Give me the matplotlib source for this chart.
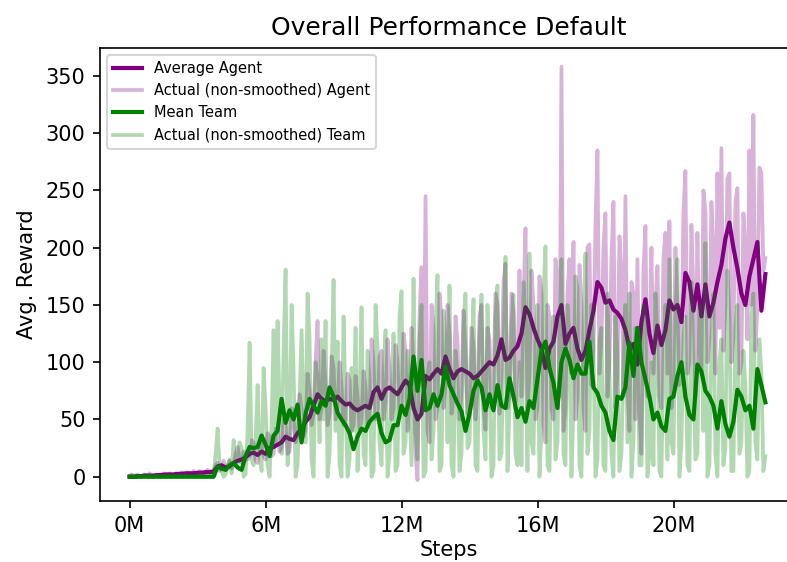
import numpy as np
import matplotlib
matplotlib.use("Agg")
import matplotlib.pyplot as plt

# ---- data ----
step_m = 0.147  # millions of steps per smoothed point (raw points are twice as dense)

avg_agent = [
    0, 0, 0.5, 0.5, 1, 1, 1, 1.5, 1.5, 2, 2, 2, 2.5, 2.5, 3, 3, 3, 3.5, 3.5, 4, 4, 4.5,
    9, 10, 8, 9, 12, 14, 15, 17, 20,
    21, 19, 22, 20, 25, 26, 28, 30, 35, 33, 32, 38, 42, 48, 52, 62, 72, 68, 66, 68,
    67, 70, 66, 63, 64, 60, 58, 60, 62, 60, 74, 78, 68, 76,
    78, 75, 72, 78, 84, 80, 60, 50, 55, 88, 85, 90, 94, 90, 105, 94, 86, 92, 94, 92,
    90, 86, 88, 92, 96, 100, 98, 106, 120, 102, 104, 110, 114,
    125, 148, 142, 130, 120, 112, 95, 112, 118, 140, 150, 116, 125, 130, 112, 102, 110, 128, 145, 170,
    165, 152, 154, 146, 143, 138, 128, 112, 116, 98, 135, 155, 125,
    108, 132, 115, 128, 154, 146, 150, 135, 178, 170, 145, 168, 140, 168, 140, 152, 170, 185, 208, 222,
    200, 182, 160, 150, 175, 190, 205, 145, 177,
]
mean_team = [
    0, 0, 0, 0, 0, 0, 0, 0, 0, 0, 0, 0, 0, 0, 0, 0, 0, 0, 0, 0, 0, 0,
    9, 7, 6, 10, 12, 8, 6, 18, 26,
    25, 26, 36, 28, 18, 36, 40, 68, 47, 58, 50, 63, 30, 55, 68, 62, 56, 66, 62, 78,
    70, 56, 50, 45, 38, 24, 35, 42, 40, 48, 52, 55, 38, 30,
    32, 45, 45, 62, 54, 68, 105, 75, 102, 58, 60, 72, 62, 72, 96, 80, 72, 64, 57, 40,
    55, 75, 84, 78, 58, 72, 58, 80, 62, 60, 86, 70, 52,
    60, 48, 66, 60, 85, 110, 118, 95, 82, 60, 100, 112, 102, 86, 98, 90, 90, 118, 78, 73,
    62, 56, 40, 32, 70, 68, 78, 117, 88, 130, 100, 85, 70,
    50, 56, 44, 40, 68, 70, 88, 100, 70, 54, 50, 98, 92, 75, 70, 62, 42, 66, 46, 35,
    48, 76, 70, 58, 62, 42, 94, 80, 65,
]
actual_agent = [
    1, 2, 0, 1, 2, 0, 0, 2, 1, 0, 3, 1, 0, 2, 1, 0, 2, 3, 0, 1,
    3, 0, 1, 3, 2, 1, 4, 2, 1, 4, 3, 2, 5, 3, 2, 5, 4, 3, 3, 6,
    5, 4, 6, 10, 12, 5, 8, 14, 6, 9, 14, 7, 10, 20, 26, 14, 12, 22, 20, 15,
    18, 32, 30, 14, 12, 30, 28, 18, 15, 38, 35, 18, 20, 42, 40, 22, 25, 50, 45, 20,
    22, 60, 50, 30, 35, 72, 60, 35, 40, 90, 75, 45, 55, 100, 136, 50, 60, 110, 80, 45,
    55, 105, 95, 50, 60, 100, 78, 45, 50, 90, 84, 40, 45, 88, 70, 42, 50, 92, 78, 45,
    55, 120, 100, 50, 60, 105, 110, 50, 65, 120, 95, 50, 60, 115, 100, 55, 62, 125, 110, 40,
    70, 130, 100, 20, -3, 140, 183, 60, 245, 40, 30, 150, 128, 50, 60, 160, 138, 60, 80, 150,
    125, 55, 70, 140, 118, 50, 75, 145, 110, 55, 60, 130, 115, 50, 75, 140, 150, 60, 41, 130,
    120, 60, 80, 160, 150, 55, 90, 170, 186, 60, 70, 160, 143, 65, 95, 180, 70, 150, 217, 60,
    90, 180, 150, 50, 60, 175, 160, 45, 30, 150, 140, 60, 50, 190, 170, 70, 358, 40, 60, 160,
    190, 90, 205, 50, 70, 185, 150, 60, 40, 200, 203, 80, 110, 220, 285, 90, 120, 200, 230, 70,
    100, 190, 240, 60, 90, 210, 180, 70, 245, 80, 40, 170, 160, 50, 190, 60, 20, 180, 219, 70,
    110, 200, 90, 150, 184, 70, 60, 190, 213, 90, 223, 60, 80, 200, 150, 80, 110, 230, 267, 90,
    100, 220, 160, 70, 213, 110, 90, 250, 232, 100, 120, 240, 200, 90, 265, 130, 287, 110, 150, 260,
    265, 100, 120, 240, 252, 90, 100, 230, 200, 120, 285, 150, 316, 110, 150, 270, 265, 180, 191,
]
actual_team = [
    0, 1, 1, 0, 0, 0, 0, 1, 2, 0, 0, 0, 0, 1, 1, 0, 0, 0, 0, 2,
    0, 0, 1, 0, 0, 1, 0, 0, 2, 0, 0, 1, 0, 0, 0, 2, 1, 0, 0, 0,
    0, 3, 0, 20, 42, 8, 5, 0, 2, 10, 15, 3, 32, 12, 8, 30, 25, 0, 2, 40,
    117, 15, 10, 30, 80, 20, 5, 95, 60, 10, 0, 45, 128, 30, 136, 60, 20, 110, 181, 10,
    40, 150, 95, 0, 10, 70, 128, 60, 30, 160, 120, 15, 0, 100, 85, 30, 120, 50, 136, 0,
    20, 90, 172, 40, 118, 10, 0, 140, 60, 0, 15, 95, 40, 130, 5, 70, 148, 20, 10, 110,
    85, 0, 5, 150, 113, 30, 10, 90, 128, 0, 20, 70, 125, 5, 10, 140, 162, 20, 30, 110,
    60, 10, 173, 40, 15, 120, 150, 0, 5, 90, 100, 15, 40, 130, 176, 5, 10, 145, 120, 30,
    167, 10, 0, 110, 90, 5, 20, 135, 160, 25, 30, 100, 155, 10, 5, 120, 159, 40, 15, 150,
    80, 0, 10, 140, 167, 15, 20, 110, 192, 5, 60, 130, 159, 20, 10, 100, 10, 170, 130, 5,
    195, 30, 20, 120, 150, 0, 40, 160, 201, 10, 5, 100, 140, 15, 30, 120, 190, 20, 10, 150,
    120, 0, 60, 175, 165, 10, 0, 130, 195, 20, 40, 150, 110, 0, 15, 120, 130, 10, 5, 160,
    90, 20, 0, 140, 110, 5, 20, 95, 150, 30, 160, 0, 30, 130, 120, 10, 10, 150, 140, 0,
    20, 100, 10, 160, 120, 5, 0, 110, 150, 15, 190, 30, 20, 140, 190, 0, 30, 120, 140, 10,
    5, 170, 100, 15, 20, 150, 130, 40, 204, 0, 10, 120, 160, 20, 0, 100, 120, 10, 25, 180,
    140, 5, 5, 130, 150, 20, 30, 110, 80, 0, 5, 140, 160, 30, 15, 120, 90, 5, 18,
]
tick_pos = [0, 5, 10, 15, 20]
tick_labels = ["0M", "6M", "12M", "16M", "20M"]

steps_s = np.arange(len(avg_agent)) * step_m
steps_r = np.arange(len(actual_agent)) * (step_m / 2)
steps_rt = np.arange(len(actual_team)) * (step_m / 2)

fig = plt.figure(figsize=(787 / 150, 562 / 150), dpi=150)
ax = fig.add_axes([100 / 787, 1 - 501 / 562, 697.4 / 787, (501 - 47.7) / 562])

ax.plot(steps_s, avg_agent, color="purple", lw=2, label="Average Agent")
ax.plot(steps_r, actual_agent, color="purple", alpha=0.3, lw=1.8, label="Actual (non-smoothed) Agent")
ax.plot(steps_s, mean_team, color="green", lw=2, label="Mean Team")
ax.plot(steps_rt, actual_team, color="green", alpha=0.3, lw=1.8, label="Actual (non-smoothed) Team")

ax.set_xlim(-1.09, 24.55)
ax.set_ylim(-21.2, 374.7)
ax.set_xticks(tick_pos)
ax.set_xticklabels(tick_labels)
ax.set_yticks([0, 50, 100, 150, 200, 250, 300, 350])
ax.set_xlabel("Steps", labelpad=2)
ax.set_ylabel("Avg. Reward")
ax.set_title("Overall Performance Default", fontsize=12)
ax.legend(loc="upper left", fontsize=7)

fig.savefig("out.png", dpi=150)
